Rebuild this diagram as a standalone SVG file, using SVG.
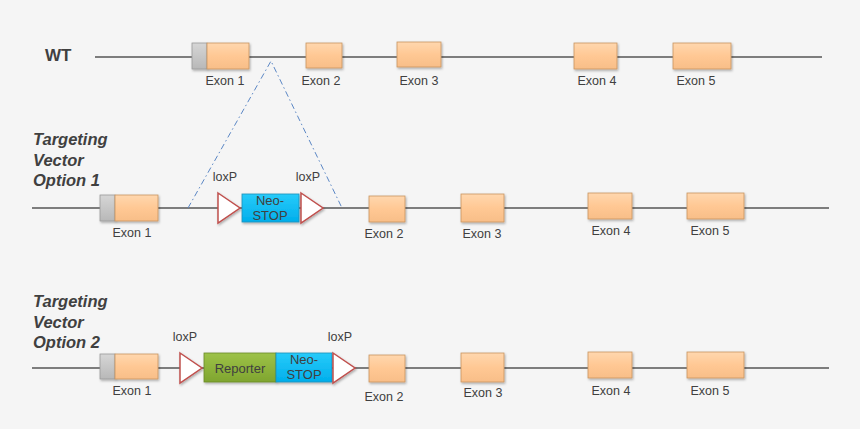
<svg xmlns="http://www.w3.org/2000/svg" width="860" height="429" viewBox="0 0 860 429">
<defs>
<linearGradient id="gOr" x1="0" y1="0" x2="0" y2="1"><stop offset="0" stop-color="#FFD7AE"/><stop offset="0.5" stop-color="#FFC894"/><stop offset="1" stop-color="#F8BE88"/></linearGradient>
<linearGradient id="gGr" x1="0" y1="0" x2="0" y2="1"><stop offset="0" stop-color="#D6D6D6"/><stop offset="1" stop-color="#B8B8B8"/></linearGradient>
<linearGradient id="gBl" x1="0" y1="0" x2="0" y2="1"><stop offset="0" stop-color="#27CBFA"/><stop offset="1" stop-color="#00AEEB"/></linearGradient>
<linearGradient id="gGn" x1="0" y1="0" x2="0" y2="1"><stop offset="0" stop-color="#9DC248"/><stop offset="1" stop-color="#7FA52F"/></linearGradient>
<filter id="sh" x="-20%" y="-20%" width="150%" height="160%"><feDropShadow dx="1" dy="1.5" stdDeviation="1" flood-color="#000" flood-opacity="0.3"/></filter>
</defs>
<style>
.bg{fill:#F5F5F5}
.ln{stroke:#555;stroke-width:1.5;fill:none}
.ex{fill:url(#gOr);stroke:#C9955F;stroke-width:0.8;filter:url(#sh)}
.gr{fill:url(#gGr);stroke:#999;stroke-width:0.8;filter:url(#sh)}
.neo{fill:url(#gBl);stroke:#1E8FB8;stroke-width:0.8;filter:url(#sh)}
.rep{fill:url(#gGn);stroke:#6A8A28;stroke-width:0.8;filter:url(#sh)}
.lox{fill:#FFFFFF;stroke:#C0504D;stroke-width:1.5;stroke-linejoin:miter;filter:url(#sh)}
.t{font-family:"Liberation Sans",Arial,sans-serif;font-size:12.5px;fill:#404040;text-anchor:middle}
.b{font-family:"Liberation Sans",Arial,sans-serif;font-size:13px;fill:#404040;text-anchor:middle}
.h{font-family:"Liberation Sans",Arial,sans-serif;font-size:16.5px;font-weight:bold;font-style:italic;fill:#404040}
.wt{font-family:"Liberation Sans",Arial,sans-serif;font-size:17px;font-weight:bold;fill:#404040}
.dash{stroke:#5B87C5;stroke-width:1;fill:none;stroke-dasharray:6 3 1.5 3}
</style>
<rect class="bg" x="0" y="0" width="860" height="429"/>

<g id="connectors">
<line class="ln" x1="95" y1="57" x2="822" y2="57"/>
<line class="ln" x1="32" y1="208" x2="829" y2="208"/>
<line class="ln" x1="32" y1="368" x2="829" y2="368"/>
<polyline class="dash" points="188,208 271,61 342,208"/>
</g>

<text class="wt" x="45" y="61">WT</text>
<g id="wt">
<g id="wt-ex1"><rect class="gr" x="192" y="43" width="15" height="26"/><rect class="ex" x="207" y="43" width="42" height="26"/><text class="t" x="225" y="85">Exon 1</text></g>
<g id="wt-ex2"><rect class="ex" x="306" y="43" width="36" height="25"/><text class="t" x="321" y="85">Exon 2</text></g>
<g id="wt-ex3"><rect class="ex" x="397" y="42" width="44" height="25"/><text class="t" x="419" y="85">Exon 3</text></g>
<g id="wt-ex4"><rect class="ex" x="574" y="43" width="43" height="26"/><text class="t" x="597" y="85">Exon 4</text></g>
<g id="wt-ex5"><rect class="ex" x="673" y="43" width="58" height="26"/><text class="t" x="696" y="85">Exon 5</text></g>
</g>

<g id="opt1-label"><text class="h" x="33" y="145">Targeting</text><text class="h" x="33" y="166">Vector</text><text class="h" x="33" y="186">Option 1</text></g>
<g id="opt1">
<g id="o1-ex1"><rect class="gr" x="100" y="195" width="15" height="26"/><rect class="ex" x="115" y="195" width="43" height="26"/><text class="t" x="132" y="237">Exon 1</text></g>
<g id="o1-lox1"><polygon class="lox" points="218,193 240,208 218,223"/><text class="t" x="225" y="181">loxP</text></g>
<g id="o1-neo"><rect class="neo" x="242" y="194" width="57" height="28"/><text class="b" x="270" y="205">Neo-</text><text class="b" x="270" y="219.5">STOP</text></g>
<g id="o1-lox2"><polygon class="lox" points="301,193 323,208 301,223"/><text class="t" x="308" y="181">loxP</text></g>
<g id="o1-ex2"><rect class="ex" x="369" y="196" width="36" height="26"/><text class="t" x="384" y="238">Exon 2</text></g>
<g id="o1-ex3"><rect class="ex" x="461" y="194" width="43" height="28"/><text class="t" x="482" y="238">Exon 3</text></g>
<g id="o1-ex4"><rect class="ex" x="588" y="193" width="44" height="26"/><text class="t" x="611" y="235">Exon 4</text></g>
<g id="o1-ex5"><rect class="ex" x="687" y="193" width="57" height="26"/><text class="t" x="710" y="235">Exon 5</text></g>
</g>

<g id="opt2-label"><text class="h" x="33" y="307">Targeting</text><text class="h" x="33" y="328">Vector</text><text class="h" x="33" y="348">Option 2</text></g>
<g id="opt2">
<g id="o2-ex1"><rect class="gr" x="100" y="354" width="15" height="25"/><rect class="ex" x="115" y="354" width="43" height="25"/><text class="t" x="132" y="395">Exon 1</text></g>
<g id="o2-lox1"><polygon class="lox" points="180,353 202,368 180,383"/><text class="t" x="185" y="341">loxP</text></g>
<g id="o2-rep"><rect class="rep" x="204" y="353" width="72" height="29"/><text class="b" x="240" y="373">Reporter</text></g>
<g id="o2-neo"><rect class="neo" x="276" y="353" width="56" height="29"/><text class="b" x="304" y="364">Neo-</text><text class="b" x="304" y="379">STOP</text></g>
<g id="o2-lox2"><polygon class="lox" points="333,353 355,368 333,383"/><text class="t" x="340" y="341">loxP</text></g>
<g id="o2-ex2"><rect class="ex" x="369" y="355" width="36" height="27"/><text class="t" x="384" y="401">Exon 2</text></g>
<g id="o2-ex3"><rect class="ex" x="461" y="353" width="43" height="29"/><text class="t" x="483" y="397">Exon 3</text></g>
<g id="o2-ex4"><rect class="ex" x="588" y="352" width="44" height="26"/><text class="t" x="611" y="395">Exon 4</text></g>
<g id="o2-ex5"><rect class="ex" x="687" y="352" width="57" height="26"/><text class="t" x="710" y="395">Exon 5</text></g>
</g>
</svg>
